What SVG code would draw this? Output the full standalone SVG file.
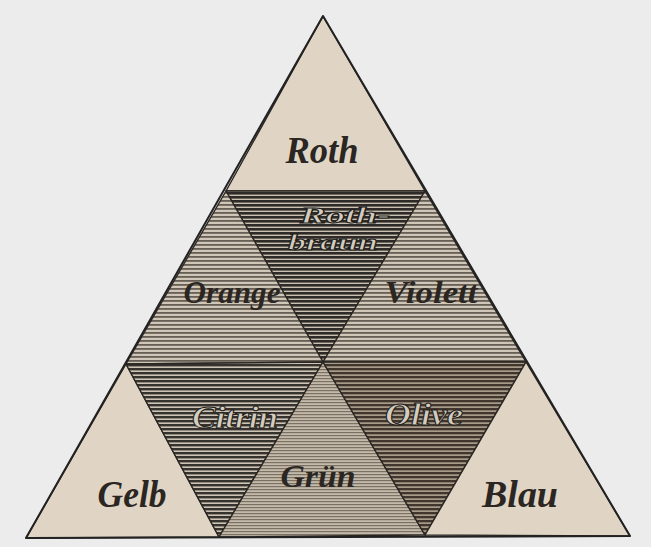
<svg xmlns="http://www.w3.org/2000/svg" width="651" height="547" viewBox="0 0 651 547">
<defs>
<pattern id="pRb" patternUnits="userSpaceOnUse" width="8" height="4"><rect width="8" height="4" fill="#c9c0b2"/><rect y="0" width="8" height="2.6" fill="#2e2a27"/></pattern>
<pattern id="pCi" patternUnits="userSpaceOnUse" width="8" height="4"><rect width="8" height="4" fill="#cdc4b6"/><rect y="0" width="8" height="2.4" fill="#36322e"/></pattern>
<pattern id="pOl" patternUnits="userSpaceOnUse" width="8" height="4"><rect width="8" height="4" fill="#a89b89"/><rect y="0" width="8" height="2.3" fill="#40362e"/></pattern>
<pattern id="pOr" patternUnits="userSpaceOnUse" width="8" height="4"><rect width="8" height="4" fill="#cfc6b7"/><rect y="0" width="8" height="1.8" fill="#665f55"/></pattern>
<pattern id="pGr" patternUnits="userSpaceOnUse" width="8" height="3"><rect width="8" height="3" fill="#c4baaa"/><rect y="0" width="8" height="1.2" fill="#7a7064"/></pattern>
</defs>
<style>
.edge{stroke:#2a2622;stroke-width:1.4;stroke-linejoin:round}
.paper{fill:#e0d5c5}
.lab{font-family:"Liberation Serif","Times New Roman",serif;font-style:italic;font-weight:bold;fill:#2b2622;text-anchor:middle}
.emb{font-family:"Liberation Serif","Times New Roman",serif;font-style:italic;font-weight:bold;fill:#d4ccbe;stroke:#221e1b;stroke-width:1;text-anchor:middle}
</style>
<rect width="651" height="547" fill="#ececec"/>
<g id="roth"><polygon class="edge paper" points="323,16 226,191 425,191"/><text class="lab" x="322" y="163" font-size="38" textLength="73" lengthAdjust="spacingAndGlyphs">Roth</text></g>
<g id="rothbraun"><polygon class="edge" fill="url(#pRb)" points="226,191 425,191 323,362"/><text class="emb" x="345" y="223" font-size="24" textLength="90" lengthAdjust="spacingAndGlyphs">Roth-</text><text class="emb" x="333" y="250" font-size="24" textLength="90" lengthAdjust="spacingAndGlyphs">braun</text></g>
<g id="orange"><polygon class="edge" fill="url(#pOr)" points="226,191 126,364 323,362"/><text class="lab" x="232" y="303" font-size="31" textLength="97" lengthAdjust="spacingAndGlyphs">Orange</text></g>
<g id="violett"><polygon class="edge" fill="url(#pOr)" points="425,191 323,362 526,362"/><text class="lab" x="431" y="303" font-size="31" textLength="93" lengthAdjust="spacingAndGlyphs">Violett</text></g>
<g id="gelb"><polygon class="edge paper" points="126,364 26,538 219,537"/><text class="lab" x="132" y="507" font-size="37" textLength="69" lengthAdjust="spacingAndGlyphs">Gelb</text></g>
<g id="citrin"><polygon class="edge" fill="url(#pCi)" points="126,364 323,362 219,537"/><text class="emb" x="235" y="428" font-size="31" textLength="86" lengthAdjust="spacingAndGlyphs">Citrin</text></g>
<g id="gruen"><polygon class="edge" fill="url(#pGr)" points="323,362 219,537 425,535"/><text class="lab" x="318" y="487" font-size="31" textLength="75" lengthAdjust="spacingAndGlyphs">Grün</text></g>
<g id="olive"><polygon class="edge" fill="url(#pOl)" points="323,362 526,362 425,535"/><text class="emb" x="424" y="425" font-size="31" textLength="78" lengthAdjust="spacingAndGlyphs">Olive</text></g>
<g id="blau"><polygon class="edge paper" points="526,362 425,535 630,536"/><text class="lab" x="520" y="507" font-size="38" textLength="76" lengthAdjust="spacingAndGlyphs">Blau</text></g>
<g id="connectors"><polygon points="323,16 26,538 630,536" fill="none" stroke="#222" stroke-width="2" stroke-linejoin="round"/></g>
</svg>
